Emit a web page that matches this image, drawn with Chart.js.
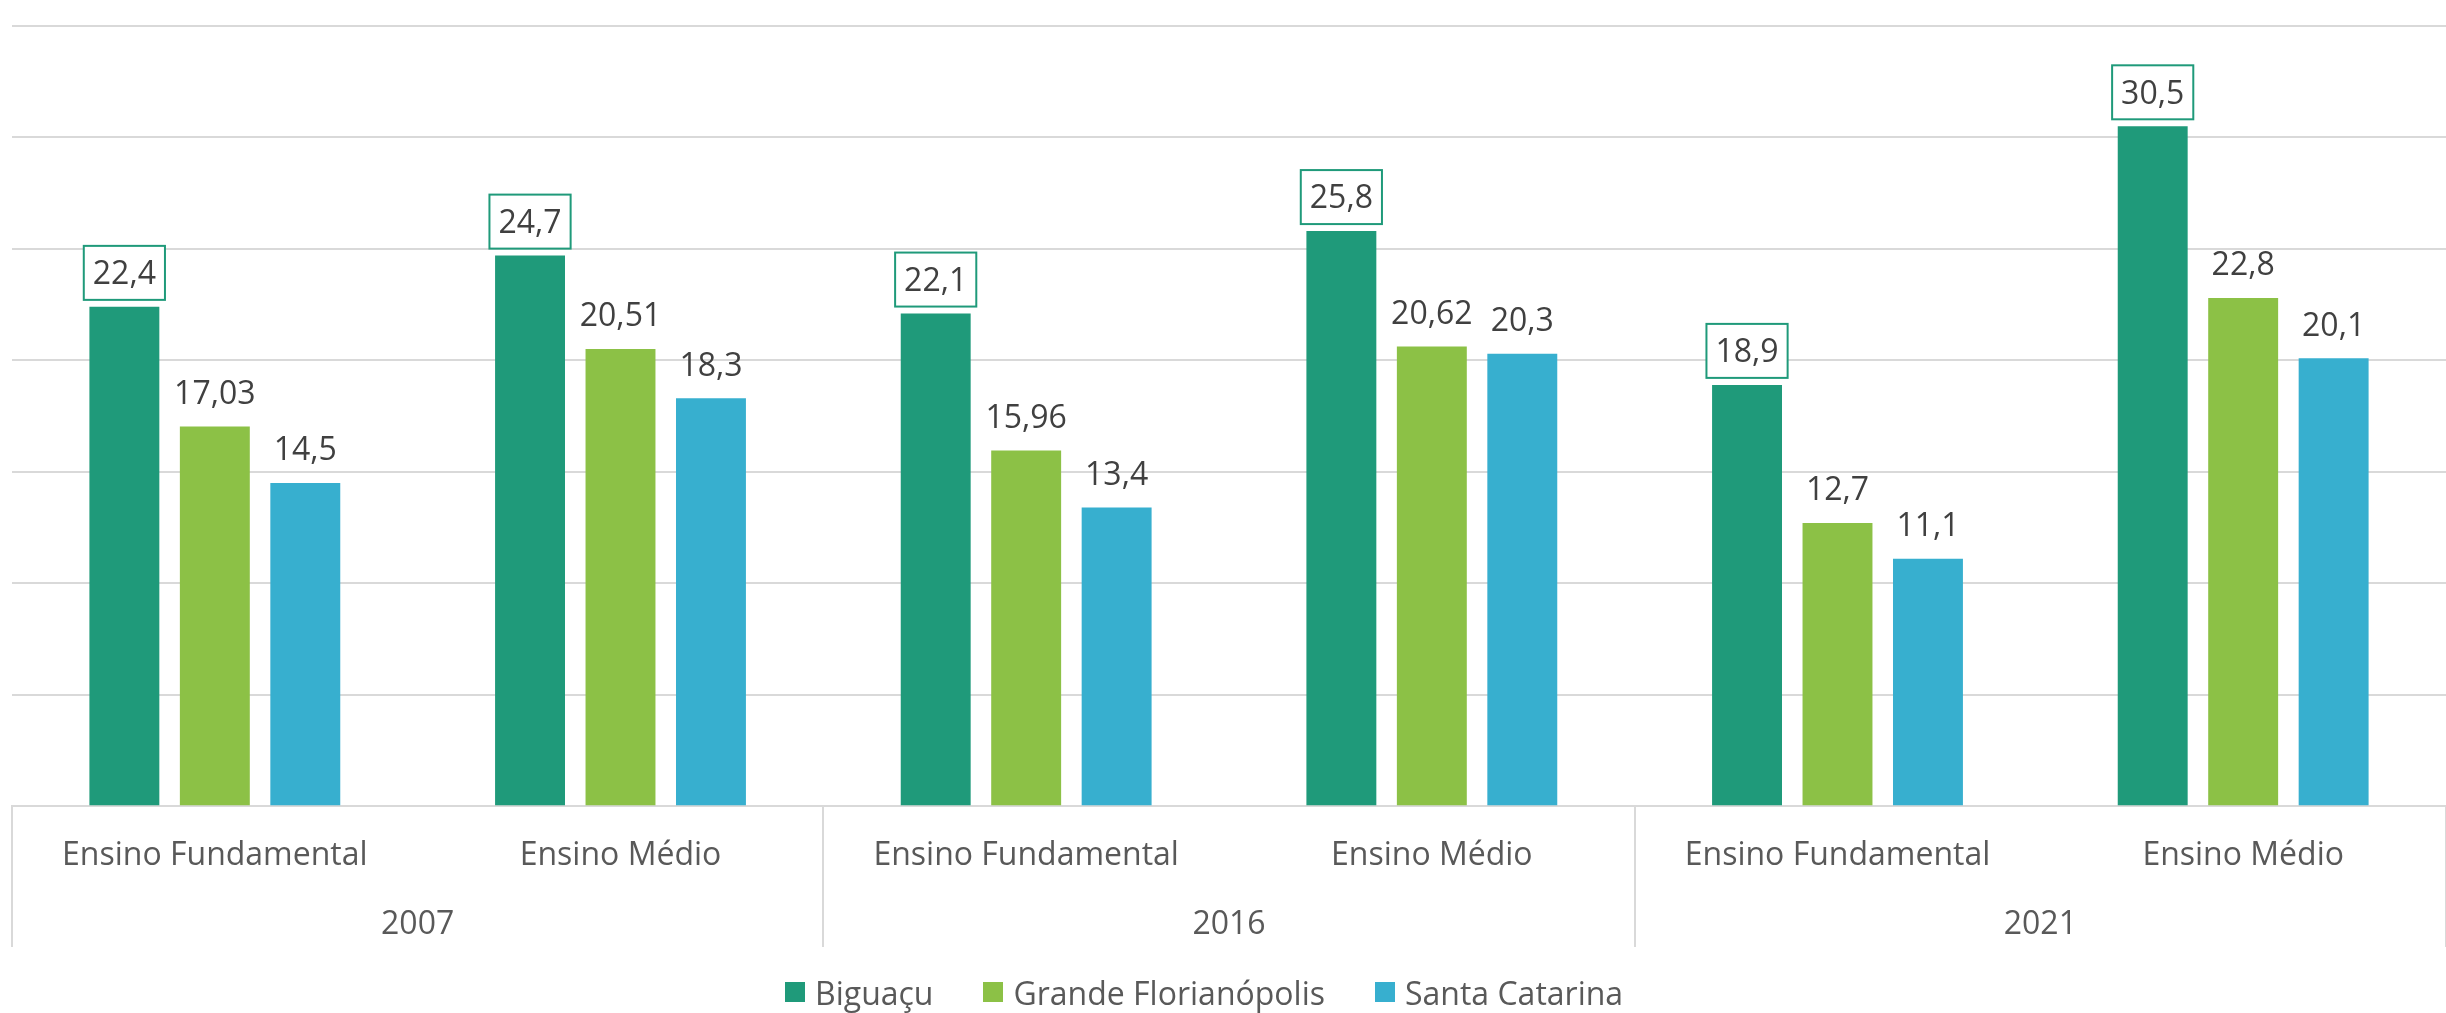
<!DOCTYPE html>
<html><head><meta charset="utf-8">
<script src="https://cdn.jsdelivr.net/npm/chart.js@4.4.1/dist/chart.umd.min.js"></script>
<style>
html,body{margin:0;padding:0;background:#fff;}
#wrap{position:relative;width:2446px;height:1013px;}
#legend{position:absolute;left:785px;top:972px;height:40px;display:flex;align-items:center;font-family:'Open Sans';font-size:32px;color:#595959;white-space:nowrap;}
.item{display:flex;align-items:center;margin-right:50px;}
.sw{width:20px;height:20px;margin-right:10px;}
</style></head><body>
<div id="wrap"><canvas id="c"></canvas><div id="legend"></div></div>
<script>
const categories = ['Ensino Fundamental','Ensino Médio','Ensino Fundamental','Ensino Médio','Ensino Fundamental','Ensino Médio'];
const years = ['2007','2016','2021'];
const seriesNames = ['Biguaçu','Grande Florianópolis','Santa Catarina'];
const biguacu = [22.4, 24.7, 22.1, 25.8, 18.9, 30.5];
const grandeFlorianopolis = [17.03, 20.51, 15.96, 20.62, 12.7, 22.8];
const santaCatarina = [14.5, 18.3, 13.4, 20.3, 11.1, 20.1];
const seriesColors = ['#1f9a7a', '#8cc146', '#37afcf'];
const seriesValues = [biguacu, grandeFlorianopolis, santaCatarina];

const FONT = '"Open Sans", sans-serif';
const fmt = v => String(v).replace('.', ',');

const dataLabels = {
  id: 'dataLabels',
  afterDatasetsDraw(chart) {
    const ctx = chart.ctx;
    ctx.save();
    ctx.font = '32px ' + FONT;
    ctx.textAlign = 'center';
    ctx.textBaseline = 'alphabetic';
    chart.data.datasets.forEach((ds, di) => {
      const meta = chart.getDatasetMeta(di);
      meta.data.forEach((bar, i) => {
        const txt = fmt(ds.data[i]);
        const cy = bar.y - 34;
        if (di === 0) {
          const w = ctx.measureText(txt).width + 18;
          const h = 54;
          ctx.fillStyle = '#ffffff';
          ctx.fillRect(bar.x - w / 2, cy - h / 2, w, h);
          ctx.strokeStyle = seriesColors[0];
          ctx.lineWidth = 2;
          ctx.strokeRect(bar.x - w / 2, cy - h / 2, w, h);
        }
        ctx.fillStyle = '#404040';
        ctx.fillText(txt, bar.x, cy + 11.4);
      });
    });
    ctx.restore();
  }
};

const separators = {
  id: 'separators',
  afterDraw(chart) {
    const x2 = chart.scales.x2;
    const ctx = chart.ctx;
    const step = x2.getPixelForValue(1) - x2.getPixelForValue(0);
    ctx.save();
    ctx.strokeStyle = '#d9d9d9';
    ctx.lineWidth = 2;
    for (let k = 0; k <= years.length; k++) {
      const px = Math.round(x2.getPixelForValue(k) - step / 2);
      ctx.beginPath();
      ctx.moveTo(px, chart.chartArea.bottom);
      ctx.lineTo(px, x2.bottom);
      ctx.stroke();
    }
    ctx.restore();
  }
};

new Chart(document.getElementById('c'), {
  type: 'bar',
  data: {
    labels: categories,
    datasets: seriesNames.map((n, i) => ({
      label: n,
      data: seriesValues[i],
      backgroundColor: seriesColors[i],
      borderWidth: 0,
      categoryPercentage: 0.669,
      barPercentage: 0.773
    }))
  },
  options: {
    responsive: true,
    maintainAspectRatio: false,
    animation: false,
    layout: { padding: { left: 12, right: 0, top: 26, bottom: 66 } },
    plugins: { legend: { display: false }, tooltip: { enabled: false } },
    scales: {
      y: {
        min: 0, max: 35,
        ticks: { display: false, stepSize: 5 },
        grid: { color: '#d9d9d9', lineWidth: 2, drawTicks: false },
        border: { display: false },
        afterFit(s) { s.width = 0; }
      },
      x: {
        weight: 0,
        grid: { display: false, drawTicks: false },
        border: { display: true, color: '#d9d9d9', width: 2 },
        ticks: { padding: 30, color: '#595959', font: { family: FONT, size: 32 }, maxRotation: 0, autoSkip: false },
        afterFit(s) { s.height = 30 + 38.4; }
      },
      x2: {
        type: 'category',
        labels: years,
        position: 'bottom',
        offset: true,
        weight: 1,
        grid: { display: false, drawTicks: false },
        border: { display: false },
        ticks: { padding: 31, color: '#595959', font: { family: FONT, size: 32 }, maxRotation: 0, autoSkip: false },
        afterFit(s) { s.height = 34 + 38.4; }
      }
    }
  },
  plugins: [dataLabels, separators]
});

const legend = document.getElementById('legend');
seriesNames.forEach((n, i) => {
  const it = document.createElement('div');
  it.className = 'item';
  const sw = document.createElement('span');
  sw.className = 'sw';
  sw.style.background = seriesColors[i];
  const tx = document.createElement('span');
  tx.textContent = n;
  it.appendChild(sw); it.appendChild(tx);
  legend.appendChild(it);
});
</script>
</body></html>
